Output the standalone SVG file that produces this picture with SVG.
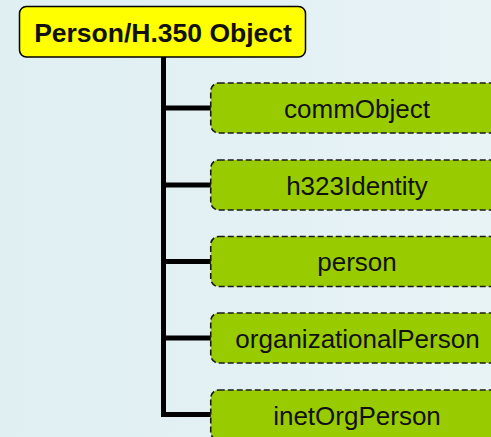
<svg xmlns="http://www.w3.org/2000/svg" width="491" height="437" viewBox="0 0 491 437">
<defs>
<linearGradient id="bg" x1="0" y1="0" x2="1" y2="0">
<stop offset="0" stop-color="#dfeff2"/>
<stop offset="1" stop-color="#e8f3f6"/>
</linearGradient>
</defs>
<style>
.cls{fill:#99cc00;stroke:#1a1a1a;stroke-width:1.6;stroke-dasharray:6 3}
.lbl{font-family:"Liberation Sans",Arial,sans-serif;font-size:26px;fill:#111;text-anchor:middle}
.conn{stroke:#000;stroke-width:5;fill:none}
</style>
<rect width="491" height="437" fill="url(#bg)"/>
<g id="connectors">
<path class="conn" d="M163.5 57 V417 M163.5 108 H211 M163.5 185 H211 M163.5 261.5 H211 M163.5 338 H211 M161 414.5 H211"/>
</g>
<g id="root">
<rect x="19.5" y="6.5" width="286" height="50.5" rx="7" fill="#ffff00" stroke="#000" stroke-width="1.5"/>
<text x="163" y="41.5" class="lbl" style="font-weight:bold;font-size:26.5px">Person/H.350 Object</text>
</g>
<g id="commObject">
<rect class="cls" x="210.75" y="83" width="300" height="50" rx="8"/>
<text class="lbl" x="357" y="117.5">commObject</text>
</g>
<g id="h323Identity">
<rect class="cls" x="210.75" y="160" width="300" height="50" rx="8"/>
<text class="lbl" x="357" y="194.5">h323Identity</text>
</g>
<g id="person">
<rect class="cls" x="210.75" y="236.5" width="300" height="50" rx="8"/>
<text class="lbl" x="357" y="271">person</text>
</g>
<g id="organizationalPerson">
<rect class="cls" x="210.75" y="313" width="300" height="50" rx="8"/>
<text class="lbl" x="357.5" y="347.5">organizationalPerson</text>
</g>
<g id="inetOrgPerson">
<rect class="cls" x="210.75" y="390" width="300" height="50" rx="8"/>
<text class="lbl" x="357" y="424.5">inetOrgPerson</text>
</g>
</svg>
